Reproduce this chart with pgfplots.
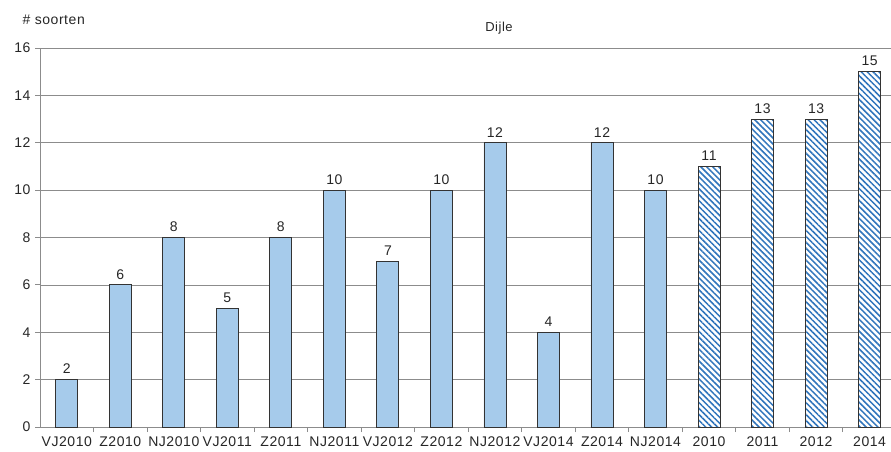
\documentclass[border=0pt]{standalone}
\usepackage{pgfplots}
\pgfplotsset{compat=1.18}
\usepackage{fontspec}
\setmainfont[LetterSpace=4]{Liberation Sans}
\usetikzlibrary{patterns.meta}
\definecolor{barblue}{HTML}{A6CBEB}
\definecolor{hatchblue}{HTML}{2F74BC}
\definecolor{gridgray}{HTML}{8C8C8C}
\begin{document}
\begin{tikzpicture}[x=1pt,y=1pt]
\useasboundingbox (-40pt,-25pt) rectangle (851pt,427pt);
\begin{axis}[
  at={(0,0)}, anchor=south west,
  scale only axis, width=851pt, height=379pt,
  xmin=-0.5, xmax=15.4,
  ymin=0, ymax=16,
  ytick={0,2,...,16},
  xtick={0,...,15},
  xticklabels={VJ2010,Z2010,NJ2010,VJ2011,Z2011,NJ2011,VJ2012,Z2012,NJ2012,VJ2014,Z2014,NJ2014,2010,2011,2012,2014},
  minor xtick={0.5,1.5,...,14.5},
  axis x line*=bottom, axis y line*=left,
  axis line style={draw=gridgray, line width=0.8pt, -},
  ymajorgrids, grid style={draw=gridgray, line width=0.7pt},
  major x tick style={draw=none},
  minor x tick style={draw=gridgray, line width=0.8pt},
  major y tick style={draw=gridgray, line width=0.8pt},
  tick align=outside, major tick length=5pt, minor tick length=5pt,
  xminorgrids=false,
  tick label style={font=\fontsize{14}{16}\selectfont, text=black!85},
  yticklabel style={xshift=-1pt},
  xticklabel style={yshift=-1pt},
  /pgf/number format/assume math mode=true,
  ybar, bar width=22pt, bar shift=0pt,
  nodes near coords,
  every node near coord/.append style={font=\fontsize{14}{16}\selectfont, text=black!85, yshift=2pt},
  clip=false,
]
\addplot[draw=black!80, line width=0.8pt, fill=barblue] coordinates {
(0,2) (1,6) (2,8) (3,5) (4,8) (5,10) (6,7) (7,10) (8,12) (9,4) (10,12) (11,10)};
\addplot[draw=black!80, line width=0.8pt, fill=white,
  postaction={pattern={Lines[angle=-45,distance=4.2pt,line width=1.5pt]}, pattern color=hatchblue}] coordinates {
(12,11) (13,13) (14,13) (15,15)};
\end{axis}
\node[font=\fontsize{14}{16}\selectfont, text=black!85, anchor=west] at (-21pt,407pt) {\# soorten};
\node[font=\fontsize{13}{15}\selectfont, text=black!85] at (459pt,399pt) {Dijle};
\end{tikzpicture}
\end{document}
